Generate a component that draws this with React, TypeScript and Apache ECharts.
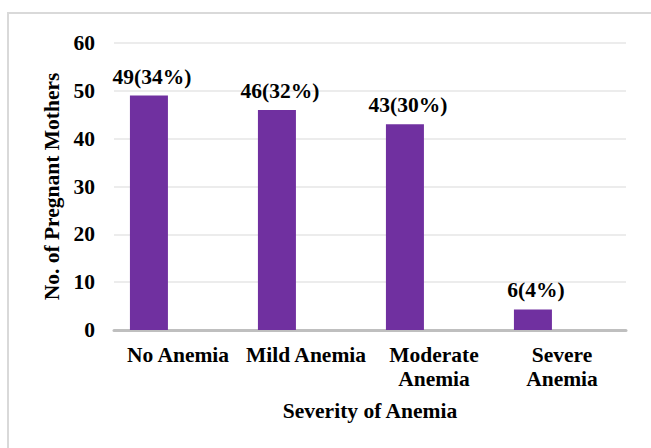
import React, { useEffect, useRef } from "react";
import * as echarts from "echarts";

const categories = ["No Anemia", "Mild Anemia", "Moderate\nAnemia", "Severe\nAnemia"];
const counts = [49, 46, 43, 4.3];
const labelTexts = ["49(34%)", "46(32%)", "43(30%)", "6(4%)"];
const yTicks = { min: 0, max: 60, interval: 10 };

const FONT = "'Liberation Serif', 'Times New Roman', serif";
const FS = 21.5;

export default function App() {
  const ref = useRef<HTMLDivElement>(null);
  useEffect(() => {
    document.body.style.margin = "0";
    const chart = echarts.init(ref.current!, null, { renderer: "svg" });
    chart.setOption({
      animation: false,
      backgroundColor: "#ffffff",
      graphic: [
        {
          type: "rect",
          shape: { x: 8, y: 13, width: 680, height: 480 },
          style: { fill: "none", stroke: "#d9d9d9", lineWidth: 2 },
          silent: true,
        },
      ],
      grid: { left: 114, right: 25, top: 43, bottom: 118, containLabel: false },
      xAxis: {
        type: "category",
        data: categories,
        name: "Severity of Anemia",
        nameLocation: "middle",
        nameGap: 70,
        nameTextStyle: { fontFamily: FONT, fontWeight: "bold", fontSize: FS, color: "#000" },
        axisLine: { lineStyle: { color: "#bfbfbf", width: 3 } },
        axisTick: { show: false },
        axisLabel: {
          interval: 0,
          margin: 13,
          fontFamily: FONT,
          fontWeight: "bold",
          fontSize: FS,
          lineHeight: 24,
          color: "#000",
        },
      },
      yAxis: {
        type: "value",
        min: yTicks.min,
        max: yTicks.max,
        interval: yTicks.interval,
        name: "No. of Pregnant Mothers",
        nameLocation: "middle",
        nameGap: 46,
        nameTextStyle: { fontFamily: FONT, fontWeight: "bold", fontSize: FS, color: "#000" },
        axisLine: { show: false },
        axisTick: { show: false },
        axisLabel: { margin: 19, fontFamily: FONT, fontWeight: "bold", fontSize: FS, color: "#000" },
        splitLine: { lineStyle: { color: "#e6e6e6", width: 1.5 } },
      },
      series: [
        {
          type: "bar",
          data: counts,
          barWidth: 38,
          barGap: "53%",
          itemStyle: { color: "#7030a0" },
          label: {
            show: true,
            position: "top",
            distance: 8,
            offset: [3, 0],
            fontFamily: FONT,
            fontWeight: "bold",
            fontSize: FS,
            color: "#000",
            formatter: (p: any) => labelTexts[p.dataIndex],
          },
        },
        {
          type: "bar",
          data: categories.map(() => null),
          barWidth: 38,
          itemStyle: { color: "transparent" },
          silent: true,
        },
      ],
    });
    return () => chart.dispose();
  }, []);
  return <div ref={ref} style={{ position: "fixed", left: 0, top: 0, width: 651, height: 448 }} />;
}
